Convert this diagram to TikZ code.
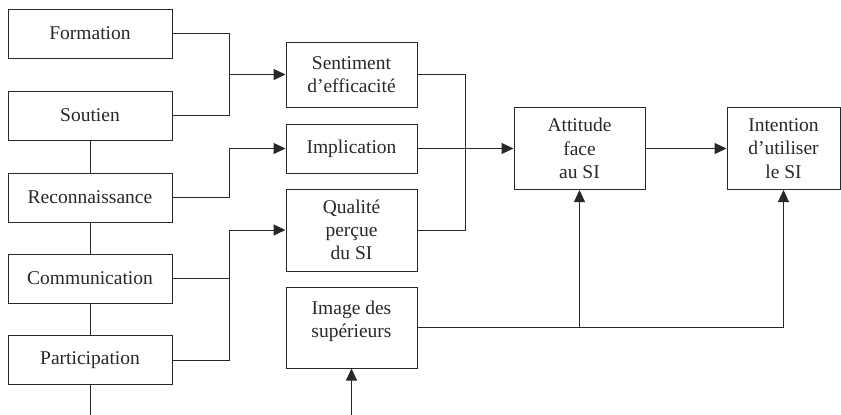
\documentclass[tikz,border=0pt]{standalone}
\usepackage{fontspec}
\setmainfont{Liberation Serif}
\usetikzlibrary{arrows.meta}
\definecolor{ink}{RGB}{40,40,40}
\begin{document}
\begin{tikzpicture}[x=1pt,y=-1pt,
  box/.style={draw=ink, text=ink, line width=1pt, minimum width=164pt, minimum height=49pt,
    align=center, inner sep=0pt, font=\fontsize{19.5}{23.3}\selectfont},
  mid/.style={box, minimum width=131pt},
  txt/.style={text=ink, align=center, inner sep=0pt, font=\fontsize{19.5}{23.3}\selectfont},
  line/.style={draw=ink, line width=1pt},
  arr/.style={line, -{Triangle[length=12pt,width=11pt]}}]
\useasboundingbox (0,0) rectangle (841,415);
% left column
\node[box] (form) at (90,33.5) {Formation};
\node[box] (sout) at (90,115.5) {Soutien};
\node[box] (reco) at (90,197.5) {Reconnaissance};
\node[box] (comm) at (90,278.5) {Communication};
\node[box] (part) at (90,360) {Participation};
% middle column
\node[mid, minimum height=65pt] (sent) at (351.5,74.5) {Sentiment\\d’efficacité};
\node[mid] (impl) at (351.5,148.5) {Implication};
\node[mid, minimum height=82pt] (qual) at (351.5,230) {Qualité\\perçue\\du SI};
\node[mid, minimum height=81pt] (im) at (351.5,327.5) {};
\node[txt] (imt) at ([yshift=6pt]im.center) {Image des\\supérieurs};
% right
\node[mid, minimum height=82pt] (att) at (579.5,148.5) {Attitude\\face\\au SI};
\node[mid, minimum width=113pt, minimum height=82pt] (int) at (783.5,148.5) {Intention\\d’utiliser\\le SI};
% left vertical chain
\coordinate (b2) at (90,415);
\draw[line] (sout.south) -- (reco.north);
\draw[line] (reco.south) -- (comm.north);
\draw[line] (comm.south) -- (part.north);
\draw[line] (part.south) -- (b2);
% junctions
\coordinate (j1) at (229,74.5);
\coordinate (j2) at (229,148.5);
\coordinate (j3) at (229,230);
\coordinate (j4) at (465,148.5);
\draw[line] (form.east) -| (j1);
\draw[line] (sout.east) -| (j1);
\draw[arr] (j1) -- (sent.west);
\draw[line] (reco.east) -| (j2);
\draw[arr] (j2) -- (impl.west);
\draw[line] (comm.east) -| (j3);
\draw[line] (part.east) -| (j3);
\draw[arr] (j3) -- (qual.west);
\draw[line] (sent.east) -| (j4);
\draw[line] (qual.east) -| (j4);
\draw[arr] (impl.east) -- (att.west);
\draw[arr] (att.east) -- (int.west);
% image des superieurs
\coordinate (j5) at (att.south |- im.east);
\draw[arr] (im.east) -| (int.south);
\draw[arr] (j5) -- (att.south);
\coordinate (b1) at (351.5,415);
\draw[arr] (b1) -- (im.south);
\end{tikzpicture}
\end{document}
